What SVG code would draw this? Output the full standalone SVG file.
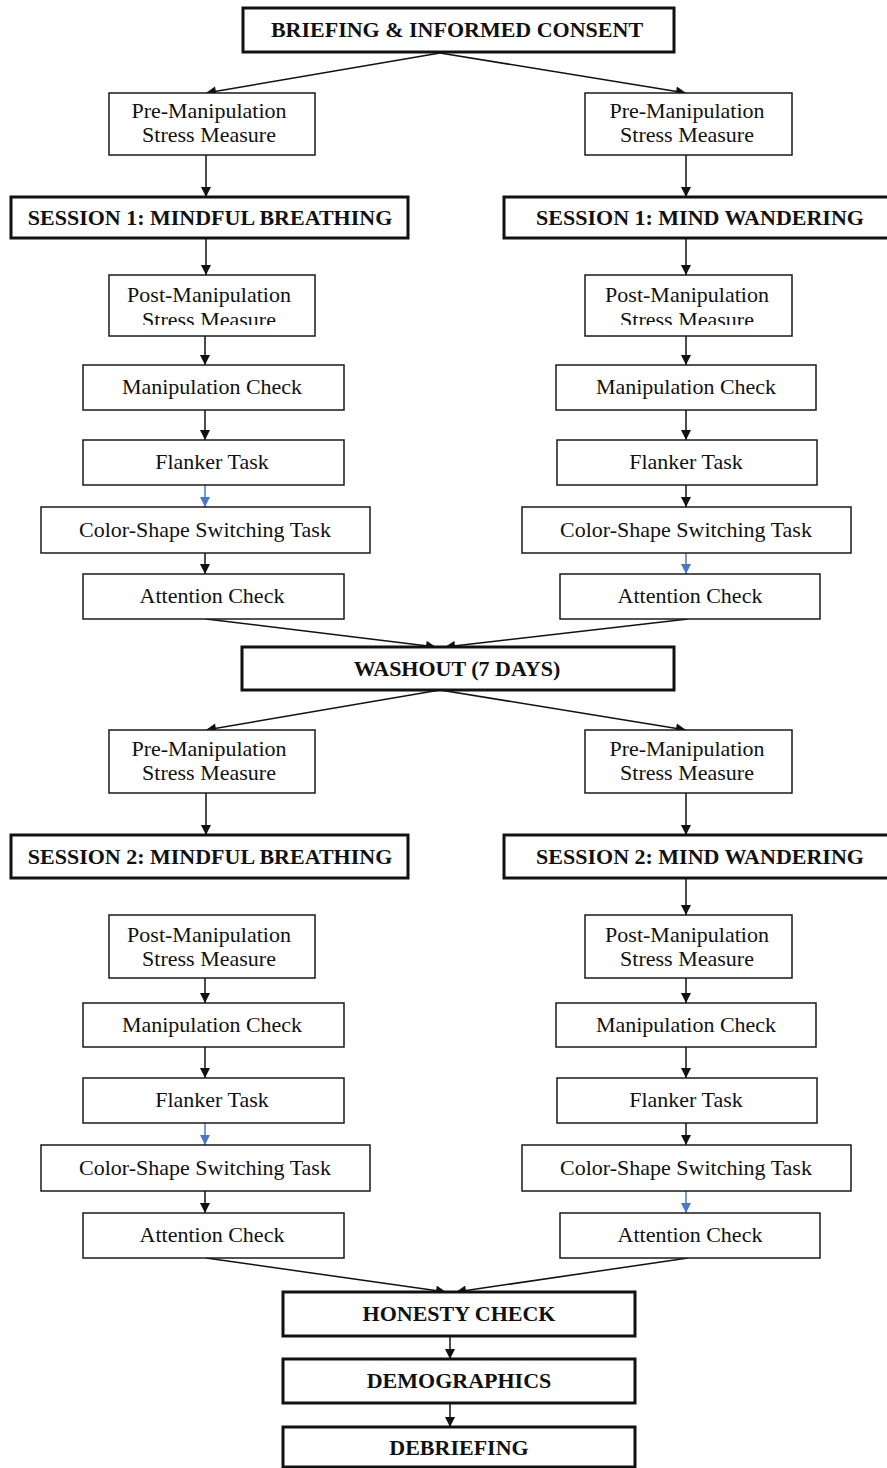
<svg xmlns="http://www.w3.org/2000/svg" width="887" height="1468" viewBox="0 0 887 1468">
<style>
.bx{fill:#fff;stroke:#1a1a1a;stroke-width:1.5}
.tk{fill:#fff;stroke:#111;stroke-width:3}
.t{font-family:"Liberation Serif","Times New Roman",serif;font-size:22px;fill:#111;text-anchor:middle}
.b{font-family:"Liberation Serif","Times New Roman",serif;font-size:22px;font-weight:bold;fill:#111;text-anchor:middle}
.c{stroke:#111;stroke-width:1.5;fill:none;marker-end:url(#ah)}
.cb{stroke:#4a78c8;stroke-width:1.5;fill:none;marker-end:url(#ahb)}
</style>
<defs>
<marker id="ah" viewBox="0 0 10 10" refX="10" refY="5" markerWidth="12" markerHeight="10" markerUnits="userSpaceOnUse" orient="auto"><path d="M0,0 L10,5 L0,10 z" fill="#111"/></marker>
<marker id="ahb" viewBox="0 0 10 10" refX="10" refY="5" markerWidth="12" markerHeight="10" markerUnits="userSpaceOnUse" orient="auto"><path d="M0,0 L10,5 L0,10 z" fill="#4a78c8"/></marker>
<clipPath id="clipL"><rect x="100" y="270" width="220" height="55"/></clipPath>
<clipPath id="clipR"><rect x="575" y="270" width="220" height="55"/></clipPath>
</defs>
<rect width="887" height="1468" fill="#fff"/>

<g id="connectors">
<line class="c" x1="440" y1="53" x2="206" y2="93"/>
<line class="c" x1="440" y1="53" x2="686" y2="93"/>
<line class="c" x1="206" y1="155" x2="206" y2="197"/>
<line class="c" x1="686" y1="155" x2="686" y2="197"/>
<line class="c" x1="206" y1="238" x2="206" y2="275"/>
<line class="c" x1="686" y1="238" x2="686" y2="275"/>
<line class="c" x1="205" y1="336" x2="205" y2="365"/>
<line class="c" x1="686" y1="336" x2="686" y2="365"/>
<line class="c" x1="205" y1="410" x2="205" y2="440"/>
<line class="c" x1="686" y1="410" x2="686" y2="440"/>
<line class="cb" x1="205" y1="485" x2="205" y2="507"/>
<line class="c" x1="686" y1="485" x2="686" y2="507"/>
<line class="c" x1="205" y1="553" x2="205" y2="574"/>
<line class="cb" x1="686" y1="553" x2="686" y2="574"/>
<line class="c" x1="206" y1="619" x2="436" y2="647"/>
<line class="c" x1="688" y1="619" x2="445" y2="647"/>
<line class="c" x1="440" y1="690" x2="206" y2="730"/>
<line class="c" x1="440" y1="690" x2="686" y2="730"/>
<line class="c" x1="206" y1="793" x2="206" y2="835"/>
<line class="c" x1="686" y1="793" x2="686" y2="835"/>
<line class="c" x1="686" y1="878" x2="686" y2="915"/>
<line class="c" x1="205" y1="978" x2="205" y2="1003"/>
<line class="c" x1="686" y1="978" x2="686" y2="1003"/>
<line class="c" x1="205" y1="1047" x2="205" y2="1078"/>
<line class="c" x1="686" y1="1047" x2="686" y2="1078"/>
<line class="cb" x1="205" y1="1123" x2="205" y2="1145"/>
<line class="c" x1="686" y1="1123" x2="686" y2="1145"/>
<line class="c" x1="205" y1="1191" x2="205" y2="1213"/>
<line class="cb" x1="686" y1="1191" x2="686" y2="1213"/>
<line class="c" x1="206" y1="1258" x2="446" y2="1292"/>
<line class="c" x1="688" y1="1258" x2="456" y2="1292"/>
<line class="c" x1="450" y1="1336" x2="450" y2="1359"/>
<line class="c" x1="450" y1="1403" x2="450" y2="1427"/>
</g>

<g id="briefing"><rect class="tk" x="243" y="8" width="431" height="44"/><text class="b" x="457" y="37">BRIEFING &amp; INFORMED CONSENT</text></g>

<g id="pre1L"><rect class="bx" x="109" y="93" width="206" height="62"/><text class="t" x="209" y="118">Pre-Manipulation</text><text class="t" x="209" y="142">Stress Measure</text></g>
<g id="pre1R"><rect class="bx" x="585" y="93" width="207" height="62"/><text class="t" x="687" y="118">Pre-Manipulation</text><text class="t" x="687" y="142">Stress Measure</text></g>

<g id="s1MB"><rect class="tk" x="11" y="197" width="397" height="41"/><text class="b" x="210" y="225">SESSION 1: MINDFUL BREATHING</text></g>
<g id="s1MW"><rect class="tk" x="504" y="197" width="395" height="41"/><text class="b" x="700" y="225">SESSION 1: MIND WANDERING</text></g>

<g id="post1L"><rect class="bx" x="109" y="275" width="206" height="61"/><g clip-path="url(#clipL)"><text class="t" x="209" y="302">Post-Manipulation</text><text class="t" x="209" y="327">Stress Measure</text></g></g>
<g id="post1R"><rect class="bx" x="585" y="275" width="207" height="61"/><g clip-path="url(#clipR)"><text class="t" x="687" y="302">Post-Manipulation</text><text class="t" x="687" y="327">Stress Measure</text></g></g>

<g id="mc1L"><rect class="bx" x="83" y="365" width="261" height="45"/><text class="t" x="212" y="394">Manipulation Check</text></g>
<g id="mc1R"><rect class="bx" x="556" y="365" width="260" height="45"/><text class="t" x="686" y="394">Manipulation Check</text></g>

<g id="fl1L"><rect class="bx" x="83" y="440" width="261" height="45"/><text class="t" x="212" y="469">Flanker Task</text></g>
<g id="fl1R"><rect class="bx" x="557" y="440" width="260" height="45"/><text class="t" x="686" y="469">Flanker Task</text></g>

<g id="cs1L"><rect class="bx" x="41" y="507" width="329" height="46"/><text class="t" x="205" y="537">Color-Shape Switching Task</text></g>
<g id="cs1R"><rect class="bx" x="522" y="507" width="329" height="46"/><text class="t" x="686" y="537">Color-Shape Switching Task</text></g>

<g id="ac1L"><rect class="bx" x="83" y="574" width="261" height="45"/><text class="t" x="212" y="603">Attention Check</text></g>
<g id="ac1R"><rect class="bx" x="560" y="574" width="260" height="45"/><text class="t" x="690" y="603">Attention Check</text></g>

<g id="washout"><rect class="tk" x="242" y="647" width="432" height="43"/><text class="b" x="457" y="676">WASHOUT (7 DAYS)</text></g>

<g id="pre2L"><rect class="bx" x="109" y="730" width="206" height="63"/><text class="t" x="209" y="756">Pre-Manipulation</text><text class="t" x="209" y="780">Stress Measure</text></g>
<g id="pre2R"><rect class="bx" x="585" y="730" width="207" height="63"/><text class="t" x="687" y="756">Pre-Manipulation</text><text class="t" x="687" y="780">Stress Measure</text></g>

<g id="s2MB"><rect class="tk" x="11" y="835" width="397" height="43"/><text class="b" x="210" y="864">SESSION 2: MINDFUL BREATHING</text></g>
<g id="s2MW"><rect class="tk" x="504" y="835" width="395" height="43"/><text class="b" x="700" y="864">SESSION 2: MIND WANDERING</text></g>

<g id="post2L"><rect class="bx" x="109" y="915" width="206" height="63"/><text class="t" x="209" y="942">Post-Manipulation</text><text class="t" x="209" y="966">Stress Measure</text></g>
<g id="post2R"><rect class="bx" x="585" y="915" width="207" height="63"/><text class="t" x="687" y="942">Post-Manipulation</text><text class="t" x="687" y="966">Stress Measure</text></g>

<g id="mc2L"><rect class="bx" x="83" y="1003" width="261" height="44"/><text class="t" x="212" y="1032">Manipulation Check</text></g>
<g id="mc2R"><rect class="bx" x="556" y="1003" width="260" height="44"/><text class="t" x="686" y="1032">Manipulation Check</text></g>

<g id="fl2L"><rect class="bx" x="83" y="1078" width="261" height="45"/><text class="t" x="212" y="1107">Flanker Task</text></g>
<g id="fl2R"><rect class="bx" x="557" y="1078" width="260" height="45"/><text class="t" x="686" y="1107">Flanker Task</text></g>

<g id="cs2L"><rect class="bx" x="41" y="1145" width="329" height="46"/><text class="t" x="205" y="1175">Color-Shape Switching Task</text></g>
<g id="cs2R"><rect class="bx" x="522" y="1145" width="329" height="46"/><text class="t" x="686" y="1175">Color-Shape Switching Task</text></g>

<g id="ac2L"><rect class="bx" x="83" y="1213" width="261" height="45"/><text class="t" x="212" y="1242">Attention Check</text></g>
<g id="ac2R"><rect class="bx" x="560" y="1213" width="260" height="45"/><text class="t" x="690" y="1242">Attention Check</text></g>

<g id="honesty"><rect class="tk" x="283" y="1292" width="352" height="44"/><text class="b" x="459" y="1321">HONESTY CHECK</text></g>
<g id="demographics"><rect class="tk" x="283" y="1359" width="352" height="44"/><text class="b" x="459" y="1388">DEMOGRAPHICS</text></g>
<g id="debriefing"><rect class="tk" x="283" y="1427" width="352" height="40"/><text class="b" x="459" y="1455">DEBRIEFING</text></g>
</svg>
